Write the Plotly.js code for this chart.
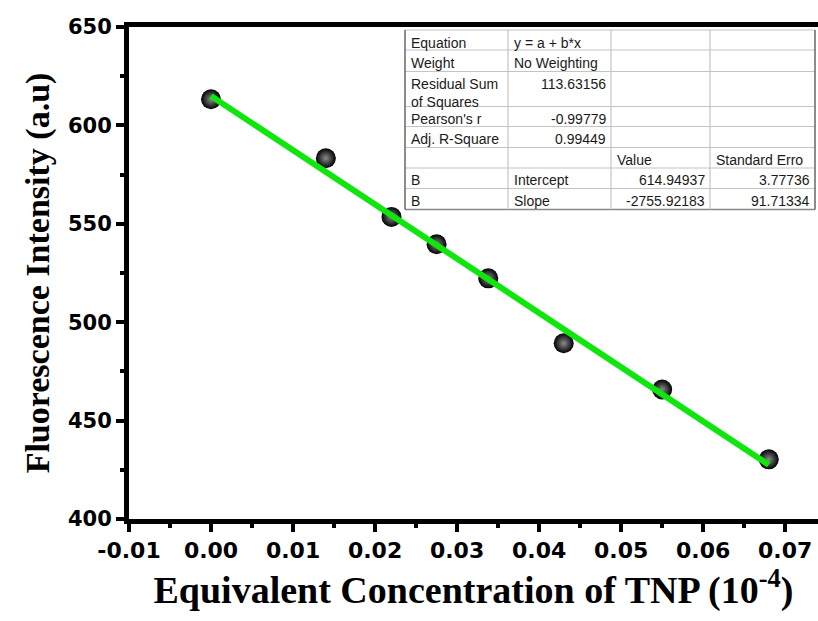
<!DOCTYPE html>
<html>
<head>
<meta charset="utf-8">
<script src="https://cdn.plot.ly/plotly-3.0.1.min.js"></script>
<style>
  html, body { margin: 0; padding: 0; background: #fff; }
  #chart { width: 818px; height: 621px; }
</style>
</head>
<body>
<div id="chart"></div>
<script>
// Measured fluorescence intensity versus equivalent TNP concentration
const concentration = [0.000, 0.014, 0.022, 0.0275, 0.0338, 0.043, 0.055, 0.068];
const intensity     = [613.3, 583.3, 553.5, 539.6, 522.3, 489.3, 465.8, 430.3];

// Linear fit results (y = a + b*x)
const fitIntercept = 614.94937;
const fitSlope = -2755.92183;
const fitInterceptErr = 3.77736;
const fitSlopeErr = 91.71334;
const residualSS = 113.63156;
const pearsonR = -0.99779;
const adjR2 = 0.99449;

// Fit summary table, one array per column
const tableCol1 = ['Equation', 'Weight', 'Residual Sum<br>of Squares', "Pearson's r", 'Adj. R-Square', '', 'B', 'B'];
const tableCol2 = ['y = a + b*x', 'No Weighting', residualSS.toFixed(5), pearsonR.toFixed(5), adjR2.toFixed(5), '', 'Intercept', 'Slope'];
const tableCol3 = ['', '', '', '', '', 'Value', fitIntercept.toFixed(5), fitSlope.toFixed(5)];
const tableCol4 = ['', '', '', '', '', 'Standard Erro', fitInterceptErr.toFixed(5), fitSlopeErr.toFixed(5)];

// Axis ticks
const xTicks = [-0.01, 0.00, 0.01, 0.02, 0.03, 0.04, 0.05, 0.06, 0.07];
const yTicks = [400, 450, 500, 550, 600, 650];

// ---- plot box in pixels ----
const W = 818, H = 621;
const M = { l: 129, r: 0, t: 27, b: 102 };
const plotW = W - M.l - M.r, plotH = H - M.t - M.b;
const px2paperX = px => (px - M.l) / plotW;
const px2paperY = py => (H - M.b - py) / plotH;

// fitted line spans the measured concentrations
const xFit = [Math.min(...concentration), Math.max(...concentration)];
const yFit = xFit.map(x => fitIntercept + fitSlope * x);

const traces = [
  {
    x: concentration, y: intensity, type: 'scatter', mode: 'markers',
    marker: { size: 20, color: '#000', gradient: { type: 'radial', color: '#8a8a8a' }, line: { width: 0 } },
    hoverinfo: 'x+y', showlegend: false
  },
  {
    x: xFit, y: yFit, type: 'scatter', mode: 'lines',
    line: { color: '#0ee60e', width: 6 },
    hoverinfo: 'skip', showlegend: false
  }
];

// ---- table geometry (pixels) ----
const colEdges = [405, 508, 611, 710, 815];
const rowHeights = [20, 21.5, 35, 20, 21, 20.5, 20.5, 21];
const tableTop = 30;
const rowEdges = [tableTop];
rowHeights.forEach(h => rowEdges.push(rowEdges[rowEdges.length - 1] + h));

const shapes = [];
const annotations = [];
const gridColor = '#c4c4c4';

// white background of the table
shapes.push({
  type: 'rect', xref: 'paper', yref: 'paper', layer: 'above',
  x0: px2paperX(colEdges[0]), x1: px2paperX(colEdges[colEdges.length - 1]),
  y0: px2paperY(rowEdges[0]), y1: px2paperY(rowEdges[rowEdges.length - 1]),
  fillcolor: '#fff', line: { width: 0 }
});
// horizontal grid lines
rowEdges.forEach((ry, i) => {
  const last = (i === rowEdges.length - 1);
  shapes.push({
    type: 'line', xref: 'paper', yref: 'paper', layer: 'above',
    x0: px2paperX(colEdges[0]), x1: px2paperX(colEdges[colEdges.length - 1]),
    y0: px2paperY(ry), y1: px2paperY(ry),
    line: { color: last ? '#888' : gridColor, width: last ? 1.5 : 1.2 }
  });
});
// vertical grid lines
colEdges.forEach((cx, i) => {
  const outer = (i === 0 || i === colEdges.length - 1);
  shapes.push({
    type: 'line', xref: 'paper', yref: 'paper', layer: 'above',
    x0: px2paperX(cx), x1: px2paperX(cx),
    y0: px2paperY(rowEdges[0]), y1: px2paperY(rowEdges[rowEdges.length - 1]),
    line: { color: outer ? '#666' : gridColor, width: outer ? 1.5 : 1.2 }
  });
});

// cell texts: numbers right-aligned, words left-aligned
const isNumber = s => /^-?[\d.]+$/.test(s);
const columns = [tableCol1, tableCol2, tableCol3, tableCol4];
columns.forEach((col, ci) => {
  col.forEach((txt, ri) => {
    if (!txt) return;
    const right = isNumber(txt);
    annotations.push({
      xref: 'paper', yref: 'paper', showarrow: false,
      x: px2paperX(right ? colEdges[ci + 1] - 3 : colEdges[ci] + 4),
      y: px2paperY(rowEdges[ri] + 2.5),
      xanchor: right ? 'right' : 'left', yanchor: 'top',
      align: 'left',
      text: txt,
      font: { family: 'Liberation Sans, Arial, sans-serif', size: 14, color: '#1a1a1a' }
    });
  });
});

const layout = {
  width: W, height: H,
  margin: M,
  paper_bgcolor: '#fff', plot_bgcolor: '#fff',
  showlegend: false,
  xaxis: {
    range: [-0.01, 0.074],
    tickmode: 'array', tickvals: xTicks, ticktext: xTicks.map(v => v.toFixed(2)),
    ticks: 'outside', ticklen: 8, tickwidth: 4, tickcolor: '#000',
    minor: { dtick: 0.005, tick0: -0.01, ticks: 'outside', ticklen: 4, tickwidth: 4, tickcolor: '#000' },
    showline: true, linewidth: 5, linecolor: '#000', mirror: true,
    showgrid: false, zeroline: false,
    tickfont: { family: 'DejaVu Sans, sans-serif', size: 22, color: '#000', weight: 'bold' },
    title: {
      text: 'Equivalent Concentration of TNP (10<sup>-4</sup>)',
      font: { family: 'Liberation Serif, Times New Roman, serif', size: 38, color: '#000', weight: 'bold' },
      standoff: 8
    }
  },
  yaxis: {
    range: [400, 650],
    tickmode: 'array', tickvals: yTicks,
    ticks: 'outside', ticklen: 8, tickwidth: 4, tickcolor: '#000',
    minor: { dtick: 25, tick0: 400, ticks: 'outside', ticklen: 4, tickwidth: 4, tickcolor: '#000' },
    showline: true, linewidth: 5, linecolor: '#000', mirror: true,
    showgrid: false, zeroline: false,
    tickfont: { family: 'DejaVu Sans, sans-serif', size: 21, color: '#000', weight: 'bold' },
    title: {
      text: 'Fluorescence Intensity (a.u)',
      font: { family: 'Liberation Serif, Times New Roman, serif', size: 34, color: '#000', weight: 'bold' },
      standoff: 10
    }
  },
  shapes: shapes,
  annotations: annotations
};

Plotly.newPlot('chart', traces, layout, { displayModeBar: false, staticPlot: true });
</script>
</body>
</html>
